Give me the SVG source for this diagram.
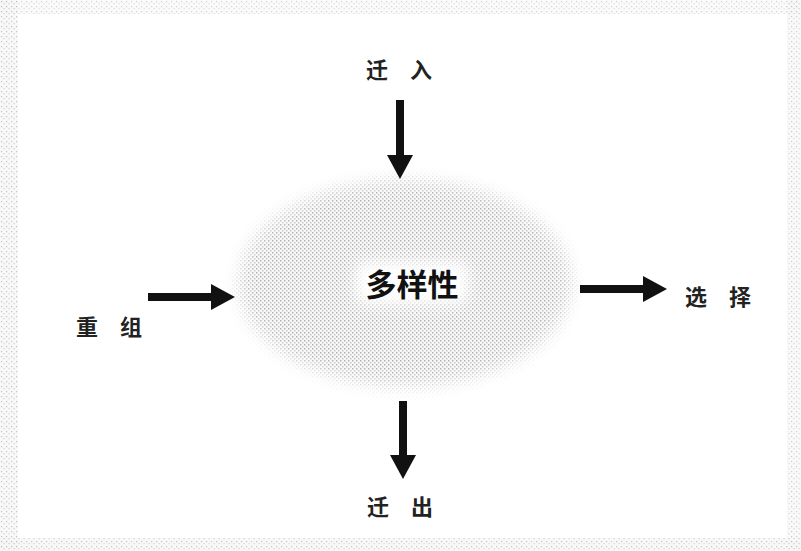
<svg xmlns="http://www.w3.org/2000/svg" width="801" height="551" viewBox="0 0 801 551">
<style>
.lbl{font-family:"Noto Sans CJK SC","Noto Sans",sans-serif;font-size:22px;fill:#222;text-anchor:middle;font-weight:bold}
.title{font-family:"Noto Sans CJK SC","Noto Sans",sans-serif;font-size:31px;fill:#111;text-anchor:middle;font-weight:bold}
.arr{stroke:#111;stroke-width:8;fill:none;marker-end:url(#ah)}
</style>
<defs>
<pattern id="dots" width="4" height="4" patternUnits="userSpaceOnUse">
<rect width="4" height="4" fill="#f4f4f4"/>
<rect x="0" y="0" width="1.5" height="1.5" fill="#8a8a8a"/>
<rect x="2" y="2" width="1.5" height="1.5" fill="#a8a8a8"/>
</pattern>
<pattern id="edge" width="5" height="5" patternUnits="userSpaceOnUse">
<rect width="5" height="5" fill="#f6f6f6"/>
<rect x="1" y="1" width="1.2" height="1.2" fill="#b8b8b8"/>
<rect x="3.5" y="3" width="1.2" height="1.2" fill="#c8c8c8"/>
</pattern>
<filter id="soft" x="-20%" y="-20%" width="140%" height="140%">
<feGaussianBlur stdDeviation="8"/>
</filter>
<filter id="soft2" x="-30%" y="-30%" width="160%" height="160%">
<feGaussianBlur stdDeviation="7"/>
</filter>
<mask id="blob" maskUnits="userSpaceOnUse" x="0" y="0" width="801" height="551">
<ellipse cx="405" cy="283" rx="166" ry="103" fill="#fff" filter="url(#soft)"/>
<rect x="356" y="262" width="112" height="42" rx="10" fill="#000" filter="url(#soft2)"/>
</mask>
<marker id="ah" viewBox="0 0 24 26" refX="0" refY="13" markerWidth="24" markerHeight="26" orient="auto" markerUnits="userSpaceOnUse">
<path d="M0,0 L24,13 L0,26 Z" fill="#111"/>
</marker>
</defs>
<rect width="801" height="551" fill="#ffffff"/>
<g id="frame">
<rect x="0" y="0" width="801" height="14" fill="url(#edge)" opacity="0.6"/>
<rect x="0" y="538" width="801" height="13" fill="url(#edge)" opacity="0.8"/>
<rect x="0" y="0" width="18" height="551" fill="url(#edge)" opacity="0.8"/>
<rect x="787" y="0" width="14" height="551" fill="url(#edge)" opacity="0.7"/>
<rect x="18" y="14" width="769" height="524" fill="#ffffff"/>
</g>
<g id="diversity">
<rect x="210" y="150" width="390" height="265" fill="url(#dots)" mask="url(#blob)" opacity="0.65"/>
<text class="title" x="412" y="296">多样性</text>
</g>
<g id="connectors">
<line class="arr" x1="400" y1="100" x2="400" y2="155"/>
<line class="arr" x1="148" y1="297" x2="211" y2="297"/>
<line class="arr" x1="580" y1="289" x2="643" y2="289"/>
<line class="arr" x1="403" y1="401" x2="403" y2="455"/>
</g>
<g id="immigration"><text class="lbl" x="399" y="78">迁　入</text></g>
<g id="recombination"><text class="lbl" x="109" y="335">重　组</text></g>
<g id="selection"><text class="lbl" x="718" y="305">选　择</text></g>
<g id="emigration"><text class="lbl" x="400" y="515">迁　出</text></g>
</svg>
